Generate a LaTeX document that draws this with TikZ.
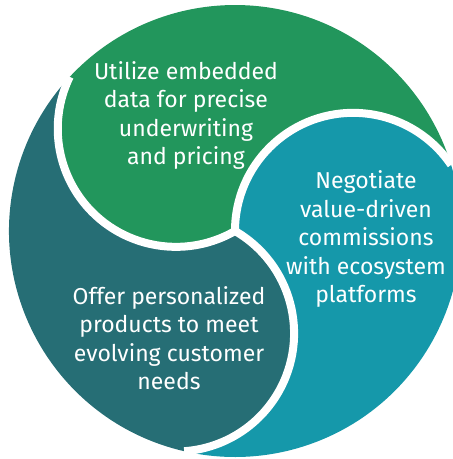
\documentclass[tikz,border=0pt]{standalone}
\usepackage{fontspec}
\setmainfont{Fira Sans}
\definecolor{segGreen}{HTML}{22965C}
\definecolor{segTeal}{HTML}{1598AA}
\definecolor{segDark}{HTML}{266E75}
\begin{document}
\begin{tikzpicture}[x=1pt,y=-1pt,
  txt/.style={text=white, align=center, inner sep=0pt, font=\fontsize{23}{28.5}\selectfont},
  gap/.style={draw=white, line width=8pt}]
\useasboundingbox (0,0) rectangle (453,459);
\def\R{226}
\def\rr{118.16}
\coordinate (C) at (235,231);
% segments
\fill[segGreen] (C) arc[start angle=60, end angle=206, radius=\rr]
  arc[start angle=223, end angle=343, radius=\R]
  arc[start angle=326, end angle=180, radius=\rr] -- cycle;
\fill[segTeal] (C) arc[start angle=180, end angle=326, radius=\rr]
  arc[start angle=-17, end angle=103, radius=\R]
  arc[start angle=446, end angle=300, radius=\rr] -- cycle;
\fill[segDark] (C) arc[start angle=300, end angle=446, radius=\rr]
  arc[start angle=103, end angle=223, radius=\R]
  arc[start angle=206, end angle=60, radius=\rr] -- cycle;
% white gaps
\draw[gap] (C) arc[start angle=60, end angle=206, radius=\rr];
\draw[gap] (C) arc[start angle=180, end angle=326, radius=\rr];
\draw[gap] (C) arc[start angle=300, end angle=446, radius=\rr];
\fill[white] (C) circle[radius=4];
% texts
\node[txt] (g) at (186,115.5) {Utilize embedded\\data for precise\\underwriting\\and pricing};
\node[txt] (t) at (366,239) {Negotiate\\value-driven\\commissions\\with ecosystem\\platforms};
\node[txt] (d) at (169,338) {Offer personalized\\products to meet\\evolving customer\\needs};
\end{tikzpicture}
\end{document}
